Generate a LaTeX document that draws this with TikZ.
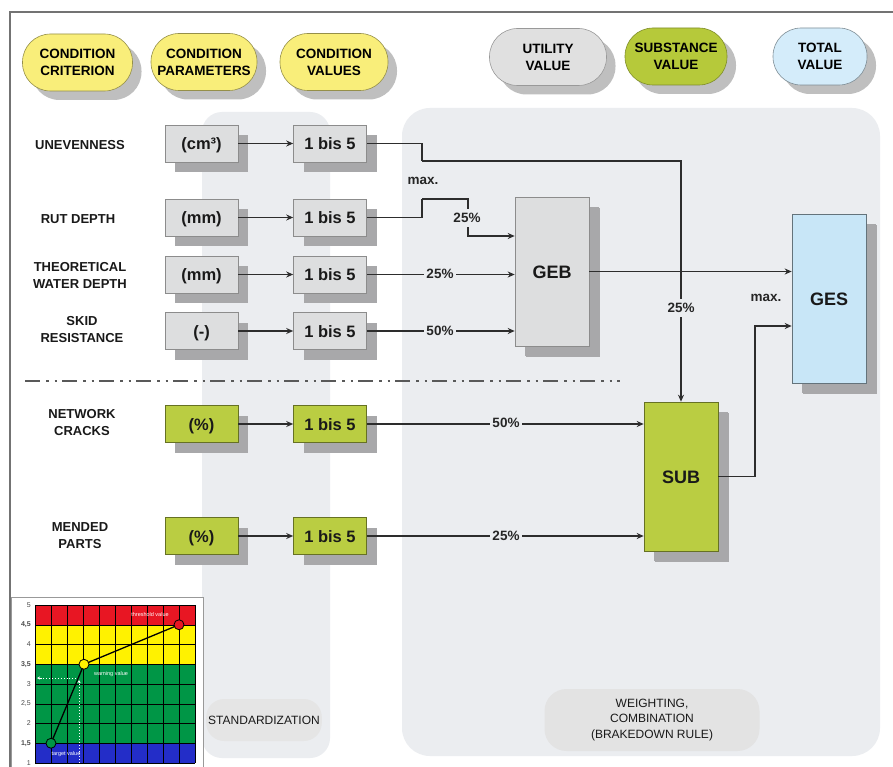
\documentclass[tikz,border=0pt]{standalone}
\usepackage{fontspec}
\setmainfont{Liberation Sans}
\usetikzlibrary{arrows.meta,shadows}
\definecolor{panel}{RGB}{235,237,240}
\definecolor{boxgray}{RGB}{221,222,223}
\definecolor{boxgreen}{RGB}{186,205,66}
\definecolor{boxblue}{RGB}{200,230,247}
\definecolor{shadowgray}{RGB}{168,168,170}
\definecolor{pillyellow}{RGB}{249,238,122}
\definecolor{pillgreen}{RGB}{182,201,58}
\definecolor{pillblue}{RGB}{212,236,250}
\definecolor{linec}{RGB}{45,45,45}
\definecolor{chred}{RGB}{232,22,35}
\definecolor{chyellow}{RGB}{255,242,0}
\definecolor{chgreen}{RGB}{0,150,70}
\definecolor{chblue}{RGB}{35,45,200}
\tikzset{
  box/.style={draw=black!45, line width=0.6pt, minimum width=73pt, minimum height=37pt,
    inner sep=0pt, text height=14pt, text depth=2pt,
    font=\bfseries\fontsize{16.5}{18}\selectfont, text=black!90,
    general shadow={shadow xshift=10pt, shadow yshift=-10pt, fill=shadowgray}},
  bigbox/.style={box, minimum width=74pt, minimum height=149pt, text height=13pt, text depth=0pt,
    font=\bfseries\fontsize{18}{20}\selectfont,
    general shadow={shadow xshift=11pt, shadow yshift=-11pt, fill=shadowgray}},
  lab/.style={font=\bfseries\fontsize{13}{17}\selectfont, align=center, text=black!90},
  pill/.style={rounded corners=28pt, minimum height=57pt, align=center, inner sep=1pt,
    font=\bfseries\fontsize{13.5}{17}\selectfont, line width=0.6pt,
    drop shadow={shadow xshift=9pt, shadow yshift=-9pt, fill=black!45, opacity=0.55}},
  botpill/.style={fill=black!10, rounded corners=18pt, align=center, inner sep=2pt,
    font=\fontsize{12}{15.5}\selectfont, text=black!90},
  ln/.style={draw=linec, line width=1.6pt},
  arr/.style={ln, -{Stealth[length=7pt, width=6pt]}},
  pct/.style={font=\bfseries\fontsize{13.5}{15}\selectfont, text=black!85, fill=panel, inner sep=2pt},
  axl/.style={font=\fontsize{7}{8}\selectfont, text=black!70, anchor=east, inner sep=0pt},
  chl/.style={font=\fontsize{5.5}{6}\selectfont, text=white, inner sep=0pt}
}
\begin{document}
\begin{tikzpicture}[x=1pt, y=-1pt]
\useasboundingbox (0,0) rectangle (893,767);
\fill[white] (0,0) rectangle (893,767);
% panels
\fill[panel, rounded corners=20pt] (202,112) rectangle (330,758);
\fill[panel, rounded corners=28pt] (402,108) rectangle (880,756);
% frame
\draw[black!55, line width=1.5pt] (10,767) -- (10,12) -- (893,12);
% header pills
\node[pill, fill=pillyellow, draw=pillyellow!60!black, minimum width=110pt] (h1) at (77.5,62.5) {CONDITION\\CRITERION};
\node[pill, fill=pillyellow, draw=pillyellow!60!black, minimum width=106pt] (h2) at (204,62) {CONDITION\\PARAMETERS};
\node[pill, fill=pillyellow, draw=pillyellow!60!black, minimum width=108pt] (h3) at (334,62) {CONDITION\\VALUES};
\node[pill, fill=black!12, draw=black!40, minimum width=117pt] (h4) at (548,57) {UTILITY\\VALUE};
\node[pill, fill=pillgreen, draw=pillgreen!70!black, minimum width=102pt] (h5) at (676,56.5) {SUBSTANCE\\VALUE};
\node[pill, fill=pillblue, draw=pillblue!60!black, minimum width=94pt] (h6) at (820,56.5) {TOTAL\\VALUE};
% bottom labels
\node[botpill, minimum width=114pt, minimum height=42pt] (std) at (264,720) {STANDARDIZATION};
\node[botpill, fill=black!11, minimum width=215pt, minimum height=62pt, rounded corners=22pt] (wgt) at (652,720) {WEIGHTING,\\COMBINATION\\(BRAKEDOWN RULE)};
% left labels
\node[lab] (l1) at (80,145) {UNEVENNESS};
\node[lab] (l2) at (78,219) {RUT DEPTH};
\node[lab] (l3) at (80,275) {THEORETICAL\\WATER DEPTH};
\node[lab] (l4) at (82,330) {SKID\\RESISTANCE};
\node[lab] (l5) at (82,423) {NETWORK\\CRACKS};
\node[lab] (l6) at (80,536) {MENDED\\PARTS};
% parameter boxes
\node[box, fill=boxgray] (p1) at (201.5,143.5) {(cm³)};
\node[box, fill=boxgray] (p2) at (201.5,217.5) {(mm)};
\node[box, fill=boxgray] (p3) at (201.5,274.5) {(mm)};
\node[box, fill=boxgray] (p4) at (201.5,331) {(-)};
\node[box, fill=boxgreen, draw=boxgreen!55!black] (p5) at (201.5,424) {(\%)};
\node[box, fill=boxgreen, draw=boxgreen!55!black] (p6) at (201.5,536) {(\%)};
% value boxes
\node[box, fill=boxgray] (v1) at (330,143.5) {1 bis 5};
\node[box, fill=boxgray] (v2) at (330,217.5) {1 bis 5};
\node[box, fill=boxgray] (v3) at (330,274.5) {1 bis 5};
\node[box, fill=boxgray] (v4) at (330,331) {1 bis 5};
\node[box, fill=boxgreen, draw=boxgreen!55!black] (v5) at (330,424) {1 bis 5};
\node[box, fill=boxgreen, draw=boxgreen!55!black] (v6) at (330,536) {1 bis 5};
% aggregate boxes
\node[bigbox, fill=boxgray] (geb) at (552,271.5) {GEB};
\node[bigbox, fill=boxgreen, draw=boxgreen!55!black] (sub) at (681,476.5) {SUB};
\node[bigbox, fill=boxblue, draw=boxblue!50!black, minimum height=169pt] (ges) at (829,298.5) {GES};
% separator
\draw[black!65, line width=2pt, dash pattern=on 15pt off 6pt on 2.5pt off 6pt on 2.5pt off 5pt] (25,381) -- (620,381);
% connectors
\foreach \i in {1,...,6} \draw[arr] (p\i) -- (v\i);
\coordinate (m1) at (422,161);
\coordinate (m2) at (422,199);
\coordinate (k2) at (468,236);
\coordinate (k7) at (755,326);
\draw[ln] (v1.east) -| (m1);
\draw[arr] (m1) -- (m1 -| sub.north) -- (sub.north);
\draw[ln] (v2.east) -| (m2);
\draw[arr] (m2) -| (k2) -- (k2 -| geb.west);
\draw[arr] (v3.east) -- (v3.east -| geb.west);
\draw[arr] (v4.east) -- (v4.east -| geb.west);
\draw[arr] (geb.east) -- (geb.east -| ges.west);
\draw[arr] (sub.east) -| (k7) -- (k7 -| ges.west);
\draw[arr] (v5.east) -- (v5.east -| sub.west);
\draw[arr] (v6.east) -- (v6.east -| sub.west);
% labels on connectors
\node[pct, fill=none] (mx1) at (423,181) {max.};
\node[pct, inner ysep=4pt] (q2) at (467,218) {25\%};
\node[pct] (q3) at (440,274) {25\%};
\node[pct] (q4) at (440,331) {50\%};
\node[pct, inner ysep=4pt] (q1) at (681,308) {25\%};
\node[pct] (q5) at (506,423) {50\%};
\node[pct] (q6) at (506,536) {25\%};
\node[pct, fill=none] (mx2) at (766,298) {max.};
% chart
\fill[white] (11,597) rectangle (203,767);
\draw[black!40, line width=1pt] (11,767) -- (11,597) -- (203,597) -- (203,767);
\fill[chred] (35,605) rectangle (195,624.75);
\fill[chyellow] (35,624.75) rectangle (195,664.25);
\fill[chgreen] (35,664.25) rectangle (195,743.25);
\fill[chblue] (35,743.25) rectangle (195,763);
\foreach \i in {0,...,10} \draw[black, line width=0.5pt] ({35+16*\i},605) -- ({35+16*\i},763);
\foreach \j in {0,...,8} \draw[black, line width=0.5pt] (35,{605+19.75*\j}) -- (195,{605+19.75*\j});
\draw[white, line width=0.9pt, dotted] (79,763) -- (79,681);
\draw[white, line width=0.9pt, -{Stealth[length=3pt,width=3pt]}] (79,683) -- (79,680);
\draw[white, line width=0.9pt, dotted] (79,678) -- (41,678);
\draw[white, line width=0.9pt, -{Stealth[length=3pt,width=3pt]}] (41,678) -- (37,678);
\coordinate (tv) at (51,743.25);
\coordinate (wv) at (84,664.25);
\coordinate (thv) at (179,624.75);
\draw[black, line width=1.3pt] (tv) -- (wv) -- (thv);
\fill[chgreen, draw=black, line width=0.8pt] (tv) circle (5pt);
\fill[chyellow, draw=black, line width=0.8pt] (wv) circle (5pt);
\fill[chred, draw=black, line width=0.8pt] (thv) circle (5pt);
\node[chl] at (150,615) {threshold value};
\node[chl] at (111,674) {warning value};
\node[chl] at (66,754) {target value};
\node[axl] at (31,605) {5};
\node[axl, font=\bfseries\fontsize{7}{8}\selectfont] at (31,624.75) {4,5};
\node[axl] at (31,644.5) {4};
\node[axl, font=\bfseries\fontsize{7}{8}\selectfont] at (31,664.25) {3,5};
\node[axl] at (31,684) {3};
\node[axl] at (31,703.75) {2,5};
\node[axl] at (31,723.5) {2};
\node[axl, font=\bfseries\fontsize{7}{8}\selectfont] at (31,743.25) {1,5};
\node[axl] at (31,763) {1};
\end{tikzpicture}
\end{document}
